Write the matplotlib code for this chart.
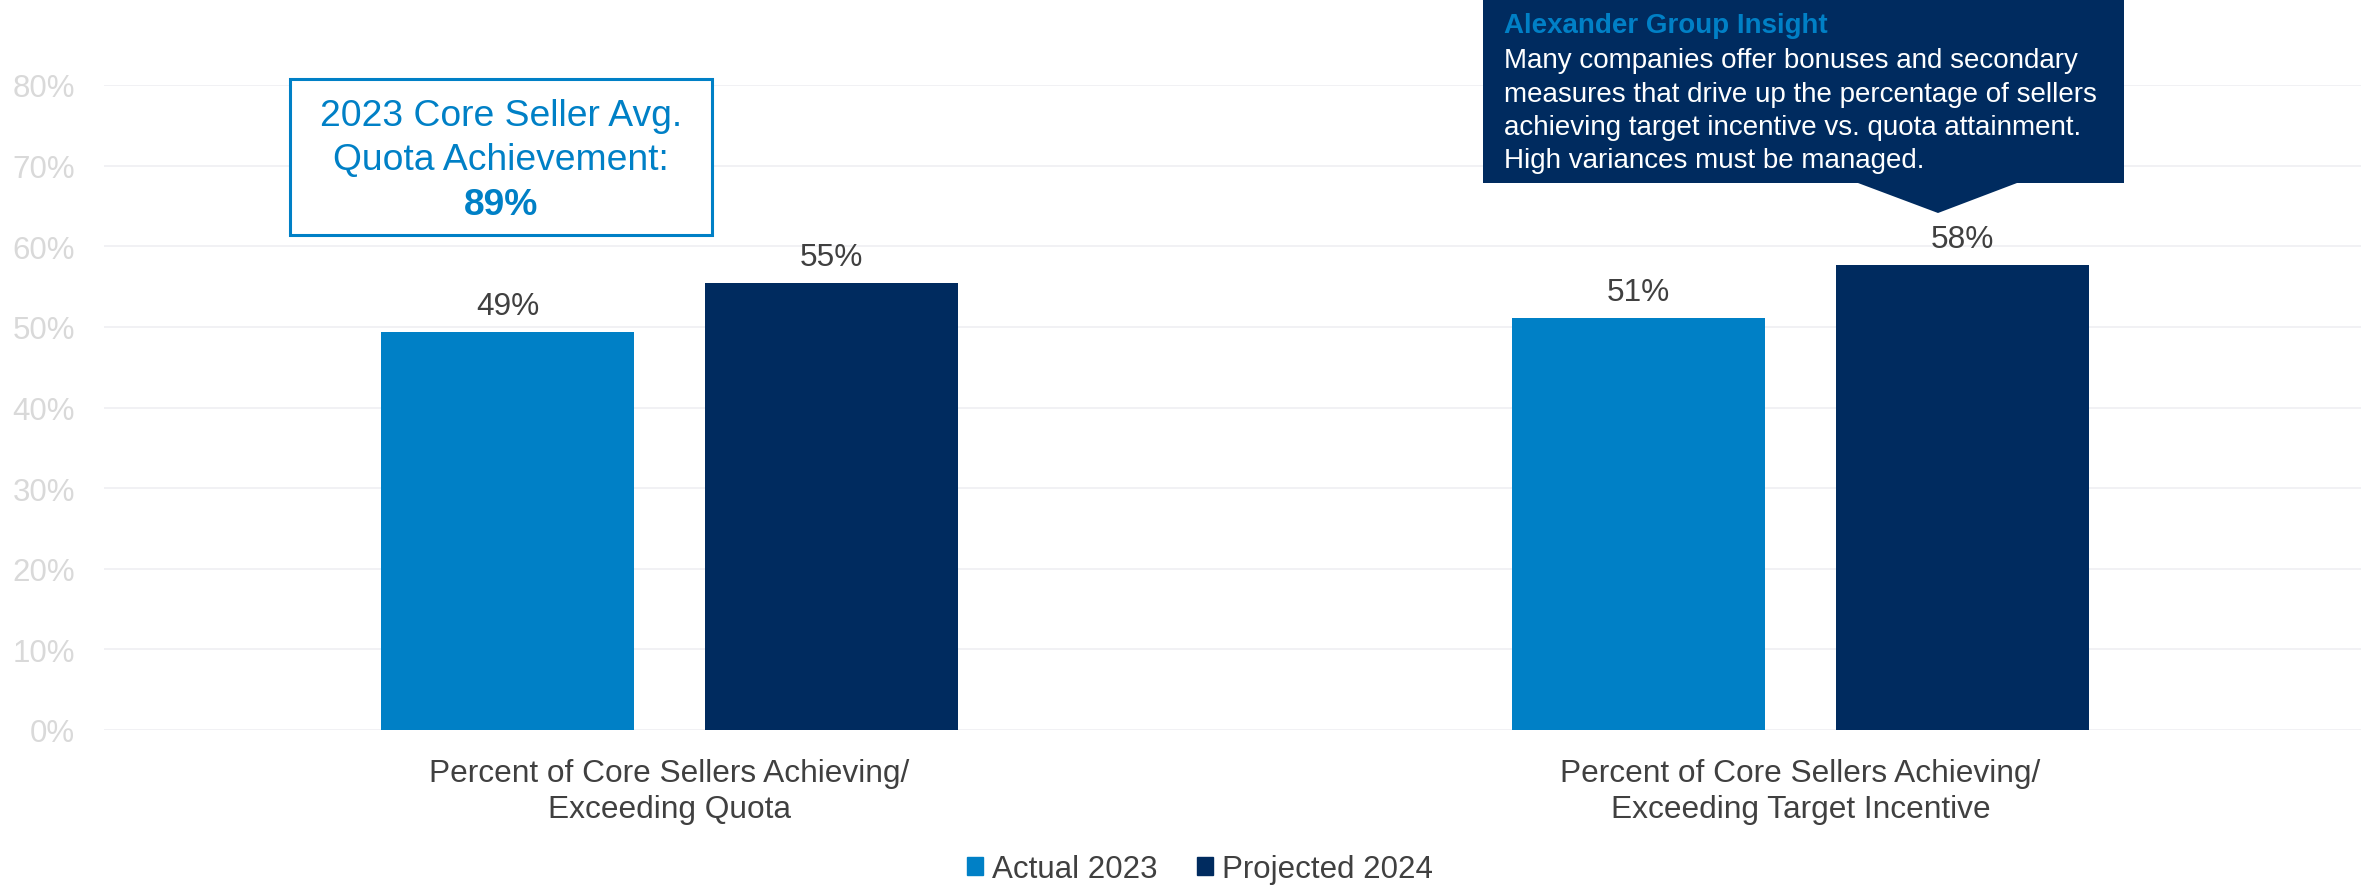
import matplotlib
matplotlib.use("Agg")
import matplotlib.pyplot as plt
from matplotlib.patches import Patch, Polygon, Rectangle

# data
categories = ["Percent of Core Sellers Achieving/\nExceeding Quota",
              "Percent of Core Sellers Achieving/\nExceeding Target Incentive"]
series_names = ["Actual 2023", "Projected 2024"]
actual_2023 = [49.4, 51.1]
projected_2024 = [55.4, 57.7]
y_ticks = [0, 10, 20, 30, 40, 50, 60, 70, 80]

callout_lines = ["2023 Core Seller Avg.", "Quota Achievement:", "89%"]
insight_title = "Alexander Group Insight"
insight_lines = ["Many companies offer bonuses and secondary",
                 "measures that drive up the percentage of sellers",
                 "achieving target incentive vs. quota attainment.",
                 "High variances must be managed."]

LIGHT_BLUE = "#0080c6"
NAVY = "#002b5f"
DARK_TEXT = "#404040"
TICK_GRAY = "#d9d9d9"
GRID = "#f0f0f3"

plt.rcParams["font.family"] = ["Liberation Sans", "DejaVu Sans"]

W, H = 2361, 887


def fx(px):
    return px / W


def fy(py):
    return 1 - py / H


fig = plt.figure(figsize=(W / 100, H / 100), dpi=100)
ax = fig.add_axes([fx(104), fy(731), (2366 - 104) / W, (731 - 86) / H])

# bars
x = range(len(categories))
width = 0.224
offset = 0.143
b1 = ax.bar([i - offset for i in x], actual_2023, width, color=LIGHT_BLUE, label=series_names[0], zorder=2)
b2 = ax.bar([i + offset for i in x], projected_2024, width, color=NAVY, label=series_names[1], zorder=2)
for bars in (b1, b2):
    ax.bar_label(bars, labels=[f"{b.get_height():.0f}%" for b in bars], padding=8,
                 fontsize=22.8, color=DARK_TEXT)

ax.set_xlim(-0.5, 1.5)
ax.set_ylim(0, 80)
ax.set_yticks(y_ticks)
ax.set_yticklabels([f"{t}%" for t in y_ticks])
ax.set_xticks(list(x))
ax.set_xticklabels(categories)
ax.tick_params(axis="y", length=0, pad=21, labelsize=22.5, labelcolor=TICK_GRAY)
ax.tick_params(axis="x", length=0, pad=20, labelsize=22.8, labelcolor=DARK_TEXT)
for t in ax.get_xticklabels():
    t.set_linespacing(1.27)
ax.grid(axis="y", color=GRID, linewidth=1.3, zorder=0)
for s in ax.spines.values():
    s.set_visible(False)

# callout box on the left
fig.add_artist(Rectangle((fx(290), fy(236)), (712 - 290) / W, (236 - 80) / H,
                         transform=fig.transFigure, facecolor="white",
                         edgecolor=LIGHT_BLUE, linewidth=2.2))
for line, base, weight in zip(callout_lines, [126, 170, 215], ["normal", "normal", "bold"]):
    fig.text(fx(501), fy(base), line, ha="center", va="baseline", fontsize=26.8,
             color=LIGHT_BLUE, fontweight=weight)

# insight speech bubble
bubble = [(1483, 0), (2124, 0), (2124, 184), (2017, 184), (1938, 214),
          (1858, 184), (1483, 184)]
fig.add_artist(Polygon([(fx(a), fy(b)) for a, b in bubble], closed=True,
                       transform=fig.transFigure, facecolor=NAVY, edgecolor="none"))
fig.text(fx(1504), fy(33), insight_title, ha="left", va="baseline", fontsize=20,
         fontweight="bold", color=LIGHT_BLUE)
for i, line in enumerate(insight_lines):
    fig.text(fx(1504), fy(68 + i * 33.5), line, ha="left", va="baseline",
             fontsize=20, color="white")

# legend
handles = [Patch(color=LIGHT_BLUE), Patch(color=NAVY)]
fig.legend(handles, series_names, loc="center", bbox_to_anchor=(fx(1200), fy(870)),
           ncol=2, frameon=False, fontsize=22.5, labelcolor=DARK_TEXT,
           handlelength=0.51, handleheight=0.51, handletextpad=0.29, columnspacing=1.28)

fig.savefig("out.png", dpi=100)
